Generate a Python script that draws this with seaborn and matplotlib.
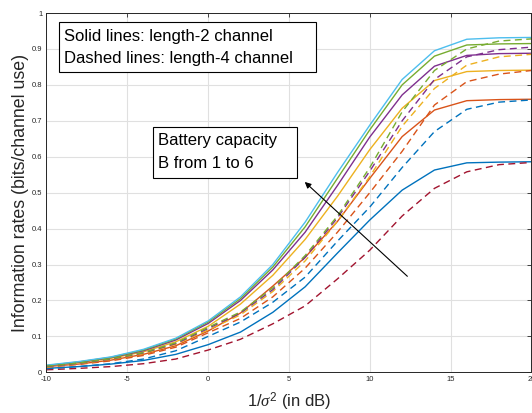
import numpy as np
import pandas as pd
import matplotlib
matplotlib.use("Agg")
import matplotlib.pyplot as plt
from matplotlib.patches import Rectangle
import seaborn as sns

# ---- data ----
snr_db = [-10, -8, -6, -4, -2, 0, 2, 4, 6, 8, 10, 12, 14, 16, 18, 20]

# Solid lines: length-2 channel, B = 1..6
len2_B1 = [0.011, 0.016, 0.023, 0.033, 0.050, 0.077, 0.112, 0.167, 0.238, 0.332, 0.424, 0.507, 0.563, 0.583, 0.585, 0.586]
len2_B2 = [0.016, 0.023, 0.034, 0.050, 0.074, 0.115, 0.165, 0.240, 0.320, 0.420, 0.540, 0.656, 0.730, 0.756, 0.759, 0.760]
len2_B3 = [0.017, 0.027, 0.039, 0.057, 0.085, 0.128, 0.190, 0.270, 0.370, 0.490, 0.620, 0.735, 0.812, 0.837, 0.840, 0.841]
len2_B4 = [0.018, 0.028, 0.041, 0.060, 0.090, 0.136, 0.200, 0.285, 0.390, 0.520, 0.655, 0.772, 0.852, 0.882, 0.887, 0.888]
len2_B5 = [0.019, 0.029, 0.042, 0.062, 0.093, 0.140, 0.205, 0.293, 0.405, 0.540, 0.675, 0.800, 0.880, 0.911, 0.914, 0.915]
len2_B6 = [0.020, 0.030, 0.043, 0.064, 0.095, 0.143, 0.210, 0.300, 0.418, 0.556, 0.688, 0.815, 0.895, 0.927, 0.931, 0.932]

# Dashed lines: length-4 channel, B = 1..6
len4_B1 = [0.007, 0.011, 0.016, 0.024, 0.037, 0.062, 0.092, 0.135, 0.185, 0.260, 0.340, 0.435, 0.512, 0.558, 0.578, 0.584]
len4_B2 = [0.010, 0.016, 0.024, 0.037, 0.060, 0.100, 0.140, 0.195, 0.265, 0.365, 0.460, 0.570, 0.670, 0.732, 0.752, 0.758]
len4_B3 = [0.014, 0.022, 0.032, 0.047, 0.070, 0.110, 0.150, 0.210, 0.290, 0.390, 0.500, 0.615, 0.744, 0.809, 0.830, 0.840]
len4_B4 = [0.015, 0.024, 0.036, 0.052, 0.078, 0.118, 0.160, 0.225, 0.310, 0.420, 0.545, 0.685, 0.790, 0.855, 0.878, 0.885]
len4_B5 = [0.016, 0.025, 0.037, 0.054, 0.080, 0.122, 0.165, 0.230, 0.320, 0.430, 0.560, 0.700, 0.815, 0.878, 0.898, 0.905]
len4_B6 = [0.017, 0.026, 0.038, 0.055, 0.082, 0.125, 0.168, 0.235, 0.325, 0.435, 0.570, 0.725, 0.840, 0.900, 0.922, 0.928]

x_ticks = [-10, -5, 0, 5, 10, 15, 20]
y_ticks = [0, 0.1, 0.2, 0.3, 0.4, 0.5, 0.6, 0.7, 0.8, 0.9, 1]
y_ticklabels = ["0", "0.1", "0.2", "0.3", "0.4", "0.5", "0.6", "0.7", "0.8", "0.9", "1"]

# MATLAB default colour order
mcolors = [(0, 0.447, 0.741), (0.85, 0.325, 0.098), (0.929, 0.694, 0.125),
           (0.494, 0.184, 0.556), (0.466, 0.674, 0.188), (0.301, 0.745, 0.933),
           (0.635, 0.078, 0.184)]

solid_series = [len2_B1, len2_B2, len2_B3, len2_B4, len2_B5, len2_B6]
dashed_series = [len4_B1, len4_B2, len4_B3, len4_B4, len4_B5, len4_B6]

sns.set_theme(style="white")
plt.rcParams['font.family'] = ['Liberation Sans', 'DejaVu Sans']
plt.rcParams['mathtext.fontset'] = 'custom'
plt.rcParams['mathtext.it'] = 'Liberation Serif:italic'
plt.rcParams['mathtext.rm'] = 'Liberation Sans'

W, H = 532.0, 413.0
fig = plt.figure(figsize=(5.32, 4.13), dpi=100)
ax = fig.add_axes([0.0874, 0.0985, 0.9116, 0.870])

k = 0
for ser in solid_series:
    df = pd.DataFrame({"x": snr_db, "y": ser})
    sns.lineplot(data=df, x="x", y="y", ax=ax, color=mcolors[k % 7], lw=1.0, linestyle='-')
    k += 1
for ser in dashed_series:
    df = pd.DataFrame({"x": snr_db, "y": ser})
    sns.lineplot(data=df, x="x", y="y", ax=ax, color=mcolors[k % 7], lw=1.0)
    ax.lines[-1].set_dashes((5, 3.2))
    k += 1

ax.set_xlim(-10, 20)
ax.set_ylim(0, 1)
ax.set_xticks(x_ticks)
ax.set_xticklabels([str(t) for t in x_ticks])
ax.set_yticks(y_ticks)
ax.set_yticklabels(y_ticklabels)
ax.grid(True, color=(0.88, 0.88, 0.88), lw=0.8)
ax.set_axisbelow(True)
ax.tick_params(axis='both', direction='in', length=3, width=0.6, labelsize=5.5,
               colors=(0.15, 0.15, 0.15), top=True, right=True, pad=3)
for s in ax.spines.values():
    s.set_color((0.15, 0.15, 0.15))
    s.set_linewidth(0.7)
    s.set_visible(True)

ax.set_xlabel(r"1/$\sigma^2$ (in dB)", fontsize=12, color=(0.15, 0.15, 0.15), labelpad=5)
ax.set_ylabel("Information rates (bits/channel use)", fontsize=12.8, color=(0.15, 0.15, 0.15), labelpad=2)


def px_box(x0, y0, x1, y1):
    fig.add_artist(Rectangle((x0 / W, 1 - y1 / H), (x1 - x0) / W, (y1 - y0) / H,
                             transform=fig.transFigure, fc='white', ec='black', lw=0.8, zorder=5))


def px_text(x, y, s):
    fig.text(x / W, 1 - y / H, s, fontsize=12.0, ha='left', va='center', zorder=6, color='black')


px_box(59, 22, 316, 72)
px_text(64, 36, "Solid lines: length-2 channel")
px_text(64, 58, "Dashed lines: length-4 channel")

px_box(153, 127, 297, 178)
px_text(158, 141, "Battery capacity")
px_text(158, 163, "B from 1 to 6")

ax.annotate("", xy=(5.85, 0.535), xytext=(12.45, 0.262),
            arrowprops=dict(arrowstyle='-|>', color='black', lw=0.8, mutation_scale=9))

fig.savefig("out.png", dpi=100)
